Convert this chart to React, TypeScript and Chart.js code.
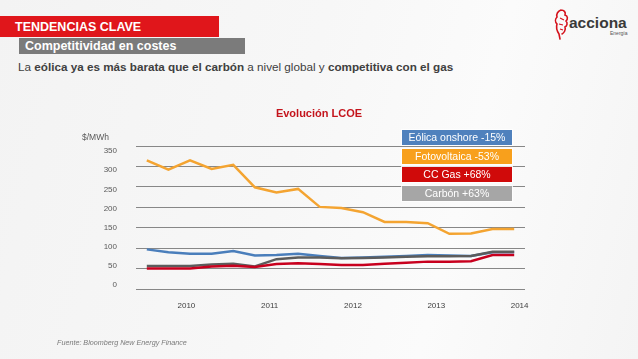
import React, { useEffect, useRef } from "react";
import { Chart, registerables } from "chart.js";

Chart.register(...registerables);

// ---- data ----
const periods = [
  "3T09", "4T09", "1T10", "2T10", "3T10", "4T10", "1T11", "2T11", "3T11",
  "4T11", "1T12", "2T12", "3T12", "4T12", "1T13", "2T13", "3T13", "4T13",
];
const eolicaOnshore = [97, 90, 86, 86, 93, 82, 83, 86, 81, 76, 77, 79, 81, 83, 82, 81, 90, 90];
const fotovoltaica = [315, 292, 315, 294, 304, 249, 236, 245, 201, 198, 188, 164, 164, 161, 135, 136, 147, 147];
const ccGas = [50, 50, 50, 55, 57, 54, 61, 63, 61, 59, 59, 62, 64, 67, 67, 68, 83, 83];
const carbon = [56, 56, 56, 60, 62, 55, 73, 77, 77, 75, 76, 77, 79, 80, 80, 81, 91, 91];
const yearTicks = [2010, 2011, 2012, 2013, 2014];
const valueTicks = [0, 50, 100, 150, 200, 250, 300, 350];
const legendLabels = ["Eólica onshore -15%", "Fotovoltaica -53%", "CC Gas +68%", "Carbón +63%"];
const lineColors = ["#4a7ebb", "#f4a431", "#c8001e", "#5c5c5c"];
const legendColors = ["#4f81bd", "#f8a01c", "#d00a0a", "#a6a6a6"];

const FONT = "'Liberation Sans', Arial, sans-serif";
const TICK_COLOR = "#595959";

export default function App() {
  const canvasRef = useRef<HTMLCanvasElement | null>(null);

  useEffect(() => {
    if (!canvasRef.current) return;
    const series = [eolicaOnshore, fotovoltaica, ccGas, carbon];
    const orders = [3, 2, 0, 1];
    const chart = new Chart(canvasRef.current, {
      type: "line",
      data: {
        labels: periods,
        datasets: series.map((d, i) => ({
          label: legendLabels[i],
          data: d,
          borderColor: lineColors[i],
          backgroundColor: lineColors[i],
          borderWidth: 2.5,
          pointRadius: 0,
          tension: 0,
          fill: false,
          order: orders[i],
          xAxisID: "x",
          yAxisID: "y",
        })),
      },
      options: {
        responsive: false,
        animation: false,
        layout: { padding: { left: 96, right: 113, top: 146, bottom: 50 } },
        plugins: {
          legend: { display: false },
          tooltip: { enabled: false },
          title: { display: false },
        },
        scales: {
          x: { type: "category", offset: true, display: false },
          years: {
            type: "linear",
            position: "bottom",
            min: 2009.395,
            max: 2014.065,
            grid: { display: false },
            border: { display: false },
            ticks: {
              font: { family: FONT, size: 8 },
              color: "#404040",
              padding: 4,
              maxRotation: 0,
              callback: (v: any) => String(v),
            },
            afterBuildTicks: (s: any) => {
              s.ticks = yearTicks.map((v) => ({ value: v }));
            },
            afterFit: (s: any) => {
              s.height = 20;
            },
          },
          y: {
            position: "left",
            min: 0,
            max: 350,
            ticks: { display: false },
            grid: { color: "#878787", lineWidth: 1, drawTicks: false },
            border: { display: false },
            afterBuildTicks: (s: any) => {
              s.ticks = valueTicks.map((v) => ({ value: v }));
            },
            afterFit: (s: any) => {
              s.width = 0;
            },
          },
          yLabels: {
            type: "linear",
            position: "left",
            min: -10.4,
            max: 363.1,
            grid: { display: false },
            border: { display: false },
            ticks: {
              font: { family: FONT, size: 8 },
              color: TICK_COLOR,
              padding: 11,
              callback: (v: any) => String(v),
            },
            afterBuildTicks: (s: any) => {
              s.ticks = valueTicks.map((v) => ({ value: v }));
            },
            afterFit: (s: any) => {
              s.width = 40;
            },
          },
        },
      } as any,
    });
    return () => chart.destroy();
  }, []);

  const abs = (o: React.CSSProperties): React.CSSProperties => ({ position: "absolute", ...o });

  return (
    <div
      style={{
        position: "fixed",
        left: 0,
        top: 0,
        width: 638,
        height: 359,
        overflow: "hidden",
        background: "linear-gradient(105deg, #f3f3f3 0%, #f7f7f7 45%, #fbfbfb 70%, #f4f4f4 100%)",
        fontFamily: FONT,
      }}
    >
      {/* header bars */}
      <div style={abs({ left: 0, top: 16, width: 219, height: 21, background: "#e0161b" })} />
      <div
        style={abs({
          left: 15,
          top: 18,
          fontSize: 12.5,
          fontWeight: "bold",
          color: "#ffffff",
          lineHeight: "18px",
          whiteSpace: "nowrap",
        })}
      >
        TENDENCIAS CLAVE
      </div>
      <div style={abs({ left: 19, top: 38, width: 226, height: 16, background: "#7b7b7b" })} />
      <div
        style={abs({
          left: 25,
          top: 37,
          fontSize: 12.5,
          fontWeight: "bold",
          color: "#ffffff",
          lineHeight: "18px",
          whiteSpace: "nowrap",
        })}
      >
        Competitividad en costes
      </div>
      <div
        style={abs({
          left: 18,
          top: 59,
          fontSize: 11.7,
          color: "#404040",
          lineHeight: "16px",
          whiteSpace: "nowrap",
        })}
      >
        La <b>eólica ya es más barata que el carbón</b> a nivel global y <b>competitiva con el gas</b>
      </div>

      {/* logo */}
      <svg style={abs({ left: 553, top: 8, width: 20, height: 32 })} viewBox="0 0 20 32">
        <path
          d="M8 2 C5 3 3 6 4 9 C2 11 2 14 4 16 C3 19 4 23 6 26 L7 31 M8 2 C11 2 13 4 12 7 C15 8 15 11 13 13 C15 15 14 18 12 19 C13 22 11 25 9 26"
          fill="none"
          stroke="#d4121c"
          strokeWidth="1.6"
          strokeLinecap="round"
        />
        <path d="M7 10 L11 12 M6 16 L10 17 M7 21 L10 22" stroke="#d4121c" strokeWidth="1.2" fill="none" />
      </svg>
      <div
        style={abs({
          left: 569,
          top: 14,
          fontSize: 15.5,
          fontWeight: "bold",
          color: "#3a3a3a",
          lineHeight: "18px",
          whiteSpace: "nowrap",
        })}
      >
        acciona
      </div>
      <div style={abs({ left: 610, top: 30, fontSize: 5, color: "#555", lineHeight: "6px" })}>Energía</div>

      {/* chart */}
      <canvas ref={canvasRef} width={638} height={359} style={abs({ left: 0, top: 0, width: 638, height: 359 })} />

      {/* chart title and unit */}
      <div
        style={abs({
          left: 219,
          top: 106,
          width: 200,
          textAlign: "center",
          fontSize: 11,
          fontWeight: "bold",
          color: "#c4141c",
          lineHeight: "14px",
        })}
      >
        Evolución LCOE
      </div>
      <div style={abs({ left: 82, top: 132, fontSize: 8.5, color: TICK_COLOR, lineHeight: "10px" })}>$/MWh</div>

      {/* legend */}
      {legendLabels.map((lab, i) => (
        <div
          key={lab}
          style={abs({
            left: 402,
            top: 130 + i * 18.6,
            width: 110,
            height: 15,
            background: legendColors[i],
            boxShadow: "0 0 0 1px rgba(255,255,255,0.8)",
            color: "#ffffff",
            fontSize: 10.5,
            lineHeight: "15px",
            textAlign: "center",
            whiteSpace: "nowrap",
          })}
        >
          {lab}
        </div>
      ))}

      {/* footer */}
      <div
        style={abs({
          left: 57,
          top: 338,
          fontSize: 7.2,
          fontStyle: "italic",
          color: "#7a7a7a",
          lineHeight: "10px",
          whiteSpace: "nowrap",
        })}
      >
        Fuente: Bloomberg New Energy Finance
      </div>
    </div>
  );
}
